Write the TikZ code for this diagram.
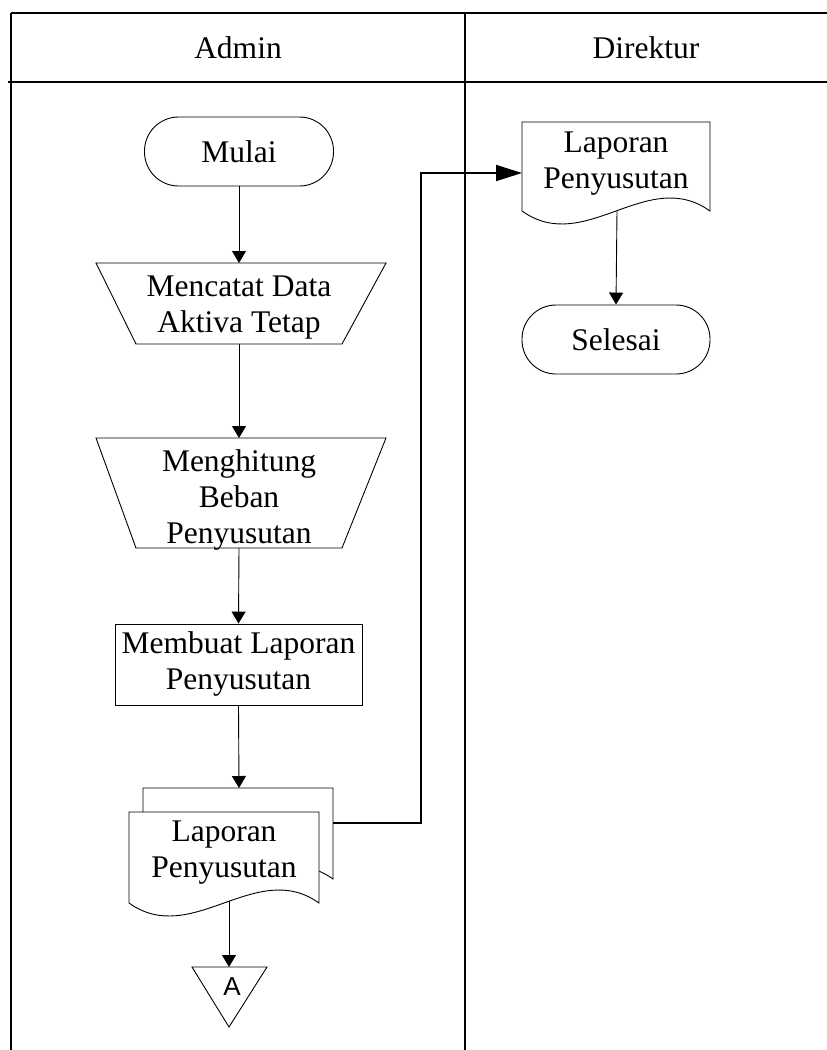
\documentclass[tikz,border=0pt]{standalone}
\usepackage{fontspec}
\setmainfont{Liberation Serif}
\newfontfamily\arialfont{Liberation Sans}
\usetikzlibrary{arrows.meta}
\begin{document}
\begin{tikzpicture}[x=1pt,y=-1pt,
  lane/.style={line width=2pt},
  vlane/.style={line width=1.6pt},
  shp/.style={draw=black, line width=0.9pt},
  lbl/.style={font=\fontsize{31.5}{36}\selectfont, align=center, inner sep=0pt},
  term/.style={shp, lbl, rounded corners=34pt, minimum width=189pt, minimum height=69pt},
  procbox/.style={shp, lbl, minimum width=247pt, minimum height=81pt},
  flow/.style={line width=0.9pt, -{Triangle[length=12pt,width=14pt]}},
  flowbig/.style={line width=2pt, -{Triangle[length=26pt,width=16pt]}}]
\useasboundingbox (0,0) rectangle (827,1050);
% swimlanes
\draw[lane] (11,13) -- (827,13);
\draw[lane] (8,82) -- (827,82);
\draw[vlane] (11,13) -- (11,1050);
\draw[vlane] (465,13) -- (465,1050);
\node[lbl] (hadmin) at (238,48) {Admin};
\node[lbl] (hdir) at (646,48) {Direktur};

% Mulai
\node[term] (mulai) at (239,151.5) {\raisebox{-2pt}{Mulai}};

% Mencatat Data Aktiva Tetap (manual operation)
\draw[shp] (96,263) -- (386,263) -- (342,344) -- (136,344) -- cycle;
\node[lbl] (mencatat) at (239,307.5) {Mencatat Data\\Aktiva Tetap};
\coordinate (mencatat-t) at (239,263);
\coordinate (mencatat-b) at (239,344);

% Menghitung Beban Penyusutan
\draw[shp] (96,438) -- (386,438) -- (342,548) -- (136,548) -- cycle;
\node[lbl] (menghitung) at (239,499.5) {Menghitung\\Beban\\Penyusutan};
\coordinate (menghitung-t) at (239,438);
\coordinate (menghitung-b) at (239,548);

% Membuat Laporan Penyusutan
\node[procbox] (membuat) at (238.5,664.5) {\raisebox{-2pt}{\begin{tabular}{@{}c@{}}Membuat Laporan\\Penyusutan\end{tabular}}};

% Multi-document
\draw[shp, fill=white] (143,788) -- (333,788) -- (333,879)
  .. controls (270,834) and (206,924) .. (143,879) -- cycle;
\draw[shp, fill=white] (129,812) -- (319,812) -- (319,903)
  .. controls (256,858) and (192,948) .. (129,903) -- cycle;
\node[lbl] (doc1) at (224,853) {Laporan\\Penyusutan};
\coordinate (doc1-t) at (239,788);
\coordinate (doc1-r) at (333,823);
\coordinate (doc1-b) at (229,901);

% Off-page connector A
\draw[shp] (192,967) -- (267,967) -- (229,1027) -- cycle;
\node[font=\arialfont\fontsize{26}{30}\selectfont, inner sep=0pt] (offA) at (232,987) {A};
\coordinate (offA-t) at (229,967);

% Direktur document
\draw[shp, fill=white] (522,122) -- (710,122) -- (710,211)
  .. controls (647,166) and (585,256) .. (522,211) -- cycle;
\node[lbl] (doc2) at (616,163.5) {Laporan\\Penyusutan};
\coordinate (doc2-l) at (522,173);
\coordinate (doc2-b) at (617,211);
\coordinate (bend) at (421,173);

% Selesai
\node[term, minimum width=188pt] (selesai) at (616,339.5) {\raisebox{-2pt}{Selesai}};

% connectors
\draw[flow] (mulai.south) -- (mencatat-t);
\draw[flow] (mencatat-b) -- (menghitung-t);
\draw[flow] (menghitung-b) -- (membuat.north);
\draw[flow] (membuat.south) -- (doc1-t);
\draw[flow] (doc1-b) -- (offA-t);
\draw[flowbig] (doc1-r) -| (bend) -- (doc2-l);
\draw[flow] (doc2-b) -- (selesai.north);
\end{tikzpicture}
\end{document}
